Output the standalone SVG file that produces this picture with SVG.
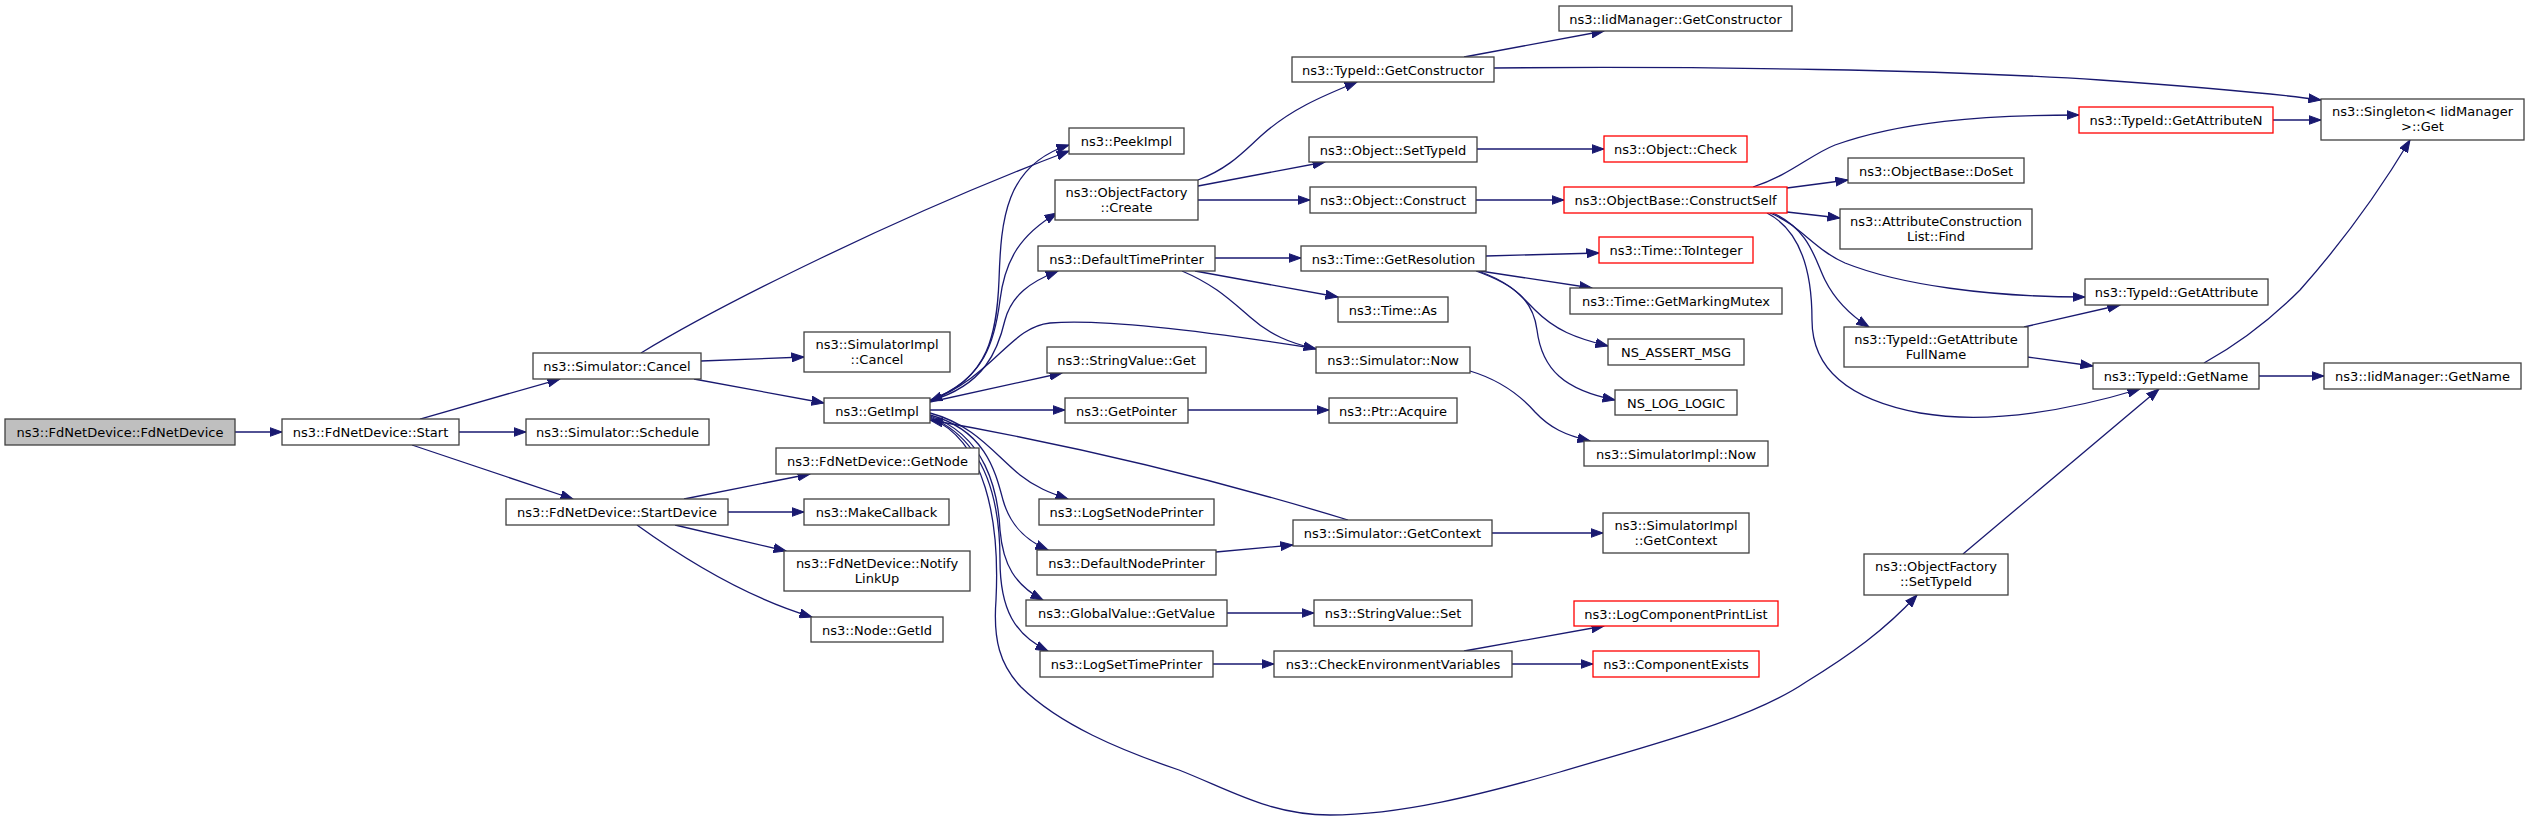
<svg xmlns="http://www.w3.org/2000/svg" width="2529" height="822" viewBox="0 0 2529 822">
<style>
.n rect{fill:#ffffff;stroke:#404040;stroke-width:1.3}
.n.r rect{stroke:#ff0000}
.n.root rect{fill:#bfbfbf}
text{font-family:"DejaVu Sans","Liberation Sans",sans-serif;font-size:13px;text-anchor:middle;fill:#000}
#edges path{fill:none;stroke:#191970;stroke-width:1.3;marker-end:url(#ah)}
</style>
<defs>
<marker id="ah" markerUnits="userSpaceOnUse" markerWidth="13" markerHeight="10" refX="12.5" refY="5" orient="auto" viewBox="0 0 13 10">
<path d="M0,0.5 L12.5,5 L0,9.5 z" fill="#191970" stroke="#191970" stroke-width="1"/>
</marker>
</defs>
<rect width="2529" height="822" fill="#ffffff"/>
<g id="edges">
<path d="M235,432 L282,432"/>
<path d="M420,419 L560,379"/>
<path d="M459,432 L526,432"/>
<path d="M412,445 L573,499"/>
<path d="M641,353 C720,305 900,215 1069,151"/>
<path d="M701,361 L804,357"/>
<path d="M694,379 L824,403"/>
<path d="M684,499 L810,474"/>
<path d="M728,512 L804,512"/>
<path d="M675,525 L786,551"/>
<path d="M637,525 C680,556 745,597 812,617"/>
<path d="M930,400 C990,380 997,330 999,280 C1001,220 1005,165 1069,145"/>
<path d="M930,400 C985,380 995,340 1000,300 C1005,260 1020,235 1057,213"/>
<path d="M930,401 C985,385 998,350 1005,320 C1012,295 1030,282 1058,271"/>
<path d="M1318,349 C1230,335 1110,318 1050,323 C1010,327 995,375 930,401"/>
<path d="M930,402 L1062,373"/>
<path d="M930,410 L1065,410"/>
<path d="M1348,520 C1250,490 1100,450 930,420"/>
<path d="M930,413 C975,425 995,455 1020,475 C1035,487 1050,493 1068,499"/>
<path d="M930,415 C985,430 995,470 1003,500 C1010,525 1025,540 1048,550"/>
<path d="M930,416 C985,435 998,490 1000,530 C1003,565 1015,585 1043,600"/>
<path d="M930,417 C985,440 1000,500 1000,560 C1000,610 1015,635 1048,651"/>
<path d="M930,418 C985,440 1000,520 996,600 C993,640 1000,665 1021,687 C1060,725 1120,750 1179,770 C1230,790 1270,815 1330,815 C1400,815 1480,795 1560,772 C1650,745 1750,720 1806,682 C1850,655 1885,630 1917,595"/>
<path d="M1198,180 C1230,168 1245,150 1262,135 C1290,110 1320,97 1357,82"/>
<path d="M1198,186 L1325,162"/>
<path d="M1198,200 L1310,200"/>
<path d="M1464,57 L1604,31"/>
<path d="M1494,68 C1700,66 1950,70 2100,80 C2200,87 2270,93 2321,100"/>
<path d="M1477,149 L1604,149"/>
<path d="M1476,200 L1564,200"/>
<path d="M1753,187 C1790,175 1810,155 1835,145 C1900,122 1980,115 2079,115"/>
<path d="M1787,188 L1848,180"/>
<path d="M1787,212 L1840,218"/>
<path d="M1770,213 C1800,225 1815,250 1845,263 C1900,285 1990,297 2085,297"/>
<path d="M1773,213 C1810,230 1815,260 1825,280 C1835,300 1850,315 1869,327"/>
<path d="M1767,213 C1800,230 1812,270 1812,320 C1812,370 1850,400 1920,413 C1990,425 2070,410 2140,389"/>
<path d="M2024,327 L2120,305"/>
<path d="M2027,357 L2093,366"/>
<path d="M2204,363 C2240,343 2270,320 2300,290 C2340,245 2380,190 2410,140"/>
<path d="M2259,376 L2324,376"/>
<path d="M1963,554 L2159,389"/>
<path d="M2273,120 L2321,120"/>
<path d="M1215,258 L1301,258"/>
<path d="M1195,271 L1338,297"/>
<path d="M1182,271 C1215,285 1230,300 1250,317 C1270,335 1290,343 1316,349"/>
<path d="M1470,371 C1500,380 1520,395 1535,412 C1550,428 1565,435 1590,441"/>
<path d="M1486,256 L1599,253"/>
<path d="M1480,271 L1592,288"/>
<path d="M1478,271 C1510,282 1520,295 1535,310 C1555,330 1575,338 1608,346"/>
<path d="M1476,271 C1515,285 1533,300 1537,330 C1542,370 1565,390 1615,400"/>
<path d="M1188,410 L1329,410"/>
<path d="M1216,552 L1293,545"/>
<path d="M1492,533 L1603,533"/>
<path d="M1227,613 L1314,613"/>
<path d="M1213,664 L1274,664"/>
<path d="M1464,651 L1604,626"/>
<path d="M1512,664 L1593,664"/>
</g>
<g id="n_root" class="n root"><rect x="5" y="419" width="230" height="26"/><text x="120" y="437">ns3::FdNetDevice::FdNetDevice</text></g>
<g id="n_start" class="n"><rect x="282" y="419" width="177" height="26"/><text x="370.5" y="437">ns3::FdNetDevice::Start</text></g>
<g id="n_cancel" class="n"><rect x="533" y="353" width="168" height="26"/><text x="617" y="371">ns3::Simulator::Cancel</text></g>
<g id="n_schedule" class="n"><rect x="526" y="419" width="183" height="26"/><text x="617.5" y="437">ns3::Simulator::Schedule</text></g>
<g id="n_startdev" class="n"><rect x="506" y="499" width="222" height="26"/><text x="617" y="517">ns3::FdNetDevice::StartDevice</text></g>
<g id="n_simimplcancel" class="n"><rect x="804" y="332" width="146" height="40"/><text x="877" y="349">ns3::SimulatorImpl</text><text x="877" y="363.5">::Cancel</text></g>
<g id="n_getimpl" class="n"><rect x="824" y="398" width="106" height="25"/><text x="877" y="415.5">ns3::GetImpl</text></g>
<g id="n_getnode" class="n"><rect x="776" y="448" width="203" height="26"/><text x="877.5" y="466">ns3::FdNetDevice::GetNode</text></g>
<g id="n_makecb" class="n"><rect x="804" y="499" width="145" height="26"/><text x="876.5" y="517">ns3::MakeCallback</text></g>
<g id="n_notify" class="n"><rect x="784" y="551" width="186" height="40"/><text x="877" y="568">ns3::FdNetDevice::Notify</text><text x="877" y="582.5">LinkUp</text></g>
<g id="n_getid" class="n"><rect x="811" y="617" width="132" height="25"/><text x="877" y="634.5">ns3::Node::GetId</text></g>
<g id="n_peekimpl" class="n"><rect x="1069" y="128" width="115" height="26"/><text x="1126.5" y="146">ns3::PeekImpl</text></g>
<g id="n_create" class="n"><rect x="1055" y="180" width="143" height="40"/><text x="1126.5" y="197">ns3::ObjectFactory</text><text x="1126.5" y="211.5">::Create</text></g>
<g id="n_dtp" class="n"><rect x="1038" y="246" width="177" height="25"/><text x="1126.5" y="263.5">ns3::DefaultTimePrinter</text></g>
<g id="n_svget" class="n"><rect x="1047" y="347" width="159" height="26"/><text x="1126.5" y="365">ns3::StringValue::Get</text></g>
<g id="n_getpointer" class="n"><rect x="1065" y="398" width="123" height="25"/><text x="1126.5" y="415.5">ns3::GetPointer</text></g>
<g id="n_logsetnode" class="n"><rect x="1039" y="499" width="175" height="26"/><text x="1126.5" y="517">ns3::LogSetNodePrinter</text></g>
<g id="n_dnp" class="n"><rect x="1037" y="550" width="179" height="25"/><text x="1126.5" y="567.5">ns3::DefaultNodePrinter</text></g>
<g id="n_gvget" class="n"><rect x="1026" y="600" width="201" height="26"/><text x="1126.5" y="618">ns3::GlobalValue::GetValue</text></g>
<g id="n_logsettime" class="n"><rect x="1040" y="651" width="173" height="26"/><text x="1126.5" y="669">ns3::LogSetTimePrinter</text></g>
<g id="n_tgetctor" class="n"><rect x="1292" y="57" width="202" height="25"/><text x="1393" y="74.5">ns3::TypeId::GetConstructor</text></g>
<g id="n_osettypeid" class="n"><rect x="1309" y="137" width="168" height="25"/><text x="1393" y="154.5">ns3::Object::SetTypeId</text></g>
<g id="n_oconstruct" class="n"><rect x="1310" y="187" width="166" height="26"/><text x="1393" y="205">ns3::Object::Construct</text></g>
<g id="n_getres" class="n"><rect x="1301" y="246" width="185" height="25"/><text x="1393.5" y="263.5">ns3::Time::GetResolution</text></g>
<g id="n_timeas" class="n"><rect x="1338" y="297" width="110" height="25"/><text x="1393" y="314.5">ns3::Time::As</text></g>
<g id="n_simnow" class="n"><rect x="1316" y="347" width="154" height="26"/><text x="1393" y="365">ns3::Simulator::Now</text></g>
<g id="n_acquire" class="n"><rect x="1329" y="398" width="128" height="25"/><text x="1393" y="415.5">ns3::Ptr::Acquire</text></g>
<g id="n_getctx" class="n"><rect x="1293" y="520" width="199" height="26"/><text x="1392.5" y="538">ns3::Simulator::GetContext</text></g>
<g id="n_svset" class="n"><rect x="1314" y="600" width="158" height="26"/><text x="1393" y="618">ns3::StringValue::Set</text></g>
<g id="n_checkenv" class="n"><rect x="1274" y="651" width="238" height="26"/><text x="1393" y="669">ns3::CheckEnvironmentVariables</text></g>
<g id="n_iidgetctor" class="n"><rect x="1559" y="6" width="233" height="25"/><text x="1675.5" y="23.5">ns3::IidManager::GetConstructor</text></g>
<g id="n_ocheck" class="n r"><rect x="1604" y="136" width="143" height="26"/><text x="1675.5" y="154">ns3::Object::Check</text></g>
<g id="n_cself" class="n r"><rect x="1564" y="187" width="223" height="26"/><text x="1675.5" y="205">ns3::ObjectBase::ConstructSelf</text></g>
<g id="n_toint" class="n r"><rect x="1599" y="237" width="154" height="26"/><text x="1676" y="255">ns3::Time::ToInteger</text></g>
<g id="n_mutex" class="n"><rect x="1570" y="288" width="212" height="26"/><text x="1676" y="306">ns3::Time::GetMarkingMutex</text></g>
<g id="n_assert" class="n"><rect x="1608" y="339" width="136" height="26"/><text x="1676" y="357">NS_ASSERT_MSG</text></g>
<g id="n_loglogic" class="n"><rect x="1615" y="390" width="122" height="25"/><text x="1676" y="407.5">NS_LOG_LOGIC</text></g>
<g id="n_simimplnow" class="n"><rect x="1584" y="441" width="184" height="25"/><text x="1676" y="458.5">ns3::SimulatorImpl::Now</text></g>
<g id="n_simimplctx" class="n"><rect x="1603" y="513" width="146" height="40"/><text x="1676" y="530">ns3::SimulatorImpl</text><text x="1676" y="544.5">::GetContext</text></g>
<g id="n_lcpl" class="n r"><rect x="1574" y="601" width="204" height="25"/><text x="1676" y="618.5">ns3::LogComponentPrintList</text></g>
<g id="n_compexists" class="n r"><rect x="1593" y="651" width="166" height="26"/><text x="1676" y="669">ns3::ComponentExists</text></g>
<g id="n_doset" class="n"><rect x="1848" y="158" width="176" height="25"/><text x="1936" y="175.5">ns3::ObjectBase::DoSet</text></g>
<g id="n_find" class="n"><rect x="1840" y="209" width="192" height="40"/><text x="1936" y="226">ns3::AttributeConstruction</text><text x="1936" y="240.5">List::Find</text></g>
<g id="n_fullname" class="n"><rect x="1844" y="327" width="184" height="40"/><text x="1936" y="344">ns3::TypeId::GetAttribute</text><text x="1936" y="358.5">FullName</text></g>
<g id="n_ofsettypeid" class="n"><rect x="1864" y="554" width="144" height="41"/><text x="1936" y="571">ns3::ObjectFactory</text><text x="1936" y="585.5">::SetTypeId</text></g>
<g id="n_getattrn" class="n r"><rect x="2079" y="107" width="194" height="26"/><text x="2176" y="125">ns3::TypeId::GetAttributeN</text></g>
<g id="n_singleton" class="n"><rect x="2321" y="99" width="203" height="41"/><text x="2422.5" y="116">ns3::Singleton&lt; IidManager</text><text x="2422.5" y="130.5">&gt;::Get</text></g>
<g id="n_getattr" class="n"><rect x="2085" y="279" width="183" height="26"/><text x="2176.5" y="297">ns3::TypeId::GetAttribute</text></g>
<g id="n_getname" class="n"><rect x="2093" y="363" width="166" height="26"/><text x="2176" y="381">ns3::TypeId::GetName</text></g>
<g id="n_iidgetname" class="n"><rect x="2324" y="363" width="197" height="26"/><text x="2422.5" y="381">ns3::IidManager::GetName</text></g>
</svg>
